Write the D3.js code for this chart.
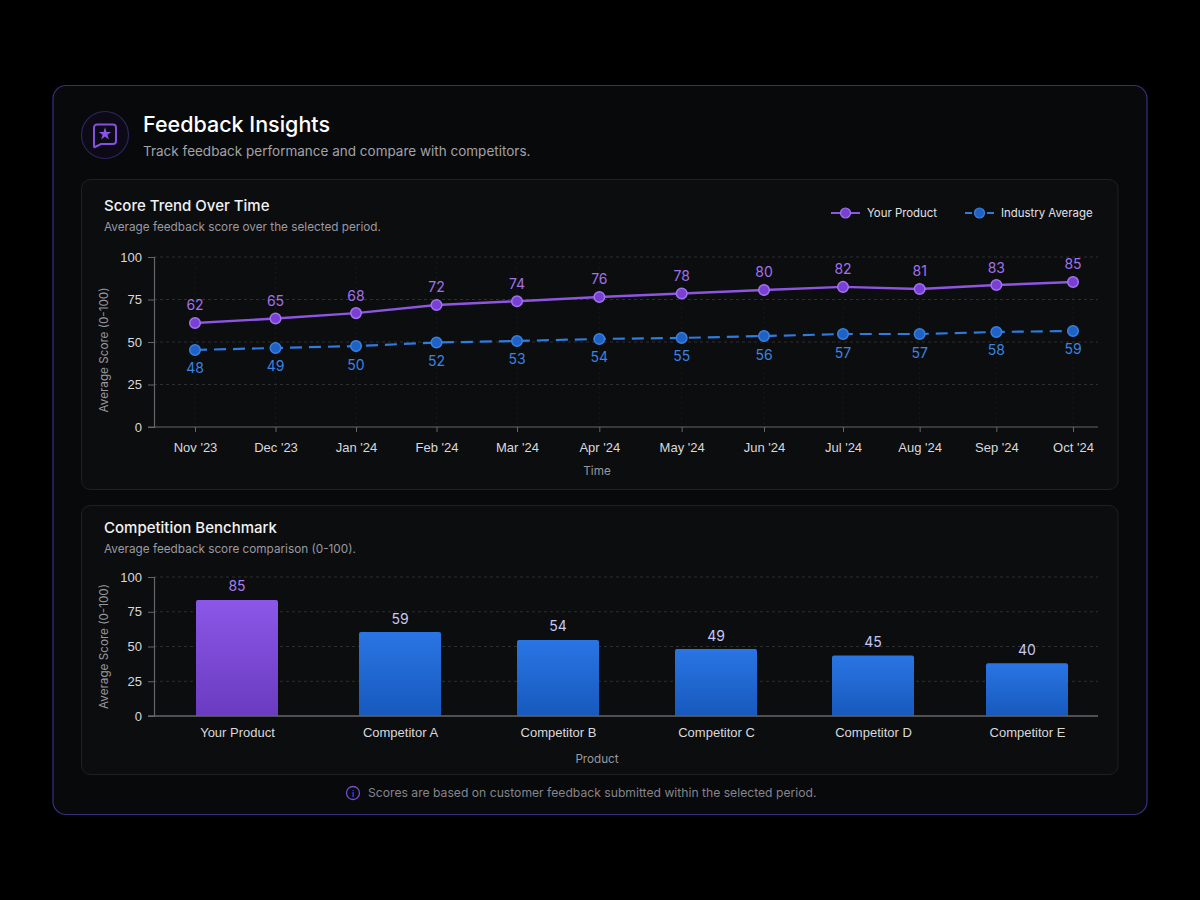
<!DOCTYPE html>
<html>
<head>
<meta charset="utf-8">
<title>Feedback Insights</title>
<script src="https://cdn.jsdelivr.net/npm/d3@7/dist/d3.min.js"></script>
<style>
  html, body { margin: 0; background: #000; }
  svg { display: block; font-family: Inter, "Noto Sans", sans-serif; }
  .tick-label { fill: #d9d9dd; font-size: 13px; }
  .axis-title { fill: #98989e; font-size: 11.7px; }
  .panel-title { fill: #f2f2f4; font-size: 15px; font-weight: 500; }
  .panel-sub { fill: #9a9aa0; font-size: 11.75px; }
  .domain-line { stroke: #66666a; stroke-width: 1.2; }
</style>
</head>
<body>
<svg id="chart" width="1200" height="900"></svg>
<script>
/* Feedback Insights: trend lines on top, benchmark bars below */

const MONTHS = ["Nov '23", "Dec '23", "Jan '24", "Feb '24", "Mar '24", "Apr '24", "May '24", "Jun '24", "Jul '24", "Aug '24", "Sep '24", "Oct '24"];

// the plotted height and the printed label disagree in the picture, so both are kept
const PRODUCT_LEVELS = [61.2, 63.8, 67, 71.8, 74, 76.5, 78.5, 80.6, 82.4, 81.2, 83.5, 85.3];
const PRODUCT_LABELS = [62, 65, 68, 72, 74, 76, 78, 80, 82, 81, 83, 85];
const INDUSTRY_LEVELS = [45.3, 46.5, 47.6, 49.7, 50.6, 51.8, 52.4, 53.5, 54.7, 54.7, 55.9, 56.5];
const INDUSTRY_LABELS = [48, 49, 50, 52, 53, 54, 55, 56, 57, 57, 58, 59];

const PRODUCTS = ["Your Product", "Competitor A", "Competitor B", "Competitor C", "Competitor D", "Competitor E"];
const BENCH_LEVELS = [83.5, 60.4, 54.7, 48.2, 43.5, 38];
const BENCH_LABELS = [85, 59, 54, 49, 45, 40];

const Y_TICKS = [0, 25, 50, 75, 100];

const PURPLE = { line: "#8e55e2", fill: "#7a40d6", ring: "#a274ee", text: "#a272ea" };
const BLUE = { line: "#2f7be0", fill: "#1f62c6", ring: "#3a80de", text: "#3b84e2" };

const svg = d3.select("#chart");
const defs = svg.append("defs");

function addGradient(id, top, bottom) {
  const g = defs.append("linearGradient").attr("id", id).attr("x1", 0).attr("y1", 0).attr("x2", 0).attr("y2", 1);
  g.append("stop").attr("offset", "0%").attr("stop-color", top);
  g.append("stop").attr("offset", "100%").attr("stop-color", bottom);
}
addGradient("barPurple", "#8b57e8", "#6a3bc0");
addGradient("barBlue", "#2a75e4", "#1759bd");

// outer card
svg.append("rect").attr("x", 53).attr("y", 85.5).attr("width", 1094).attr("height", 729).attr("rx", 13)
  .attr("fill", "#08090b").attr("stroke", "#3a2f7e").attr("stroke-width", 1.2);

function panel(y, h) {
  svg.append("rect").attr("x", 81.5).attr("y", y).attr("width", 1036.5).attr("height", h).attr("rx", 9)
    .attr("fill", "#0c0d0f").attr("stroke", "#1f2123");
}
panel(179.5, 310);
panel(505.5, 269);

// header icon
const icon = svg.append("g").attr("transform", "translate(105,135)");
icon.append("circle").attr("r", 23.5).attr("fill", "#0c0a16").attr("stroke", "#2f2559").attr("stroke-width", 1.2);
icon.append("path")
  .attr("d", "M-8,-10.5 H8 A3,3 0 0 1 11,-7.5 V6 A3,3 0 0 1 8,9 H-4 L-10,12 Q-11,12.5 -11,11 V-7.5 A3,3 0 0 1 -8,-10.5 Z")
  .attr("fill", "none").attr("stroke", "#8450dc").attr("stroke-width", 2);
icon.append("path").attr("d", d3.symbol(d3.symbolStar, 50)()).attr("transform", "translate(0,-1)").attr("fill", "#8a55e6");

svg.append("text").attr("x", 143).attr("y", 132).attr("fill", "#fff")
  .style("font-size", "21.5px").style("font-weight", 500).text("Feedback Insights");
svg.append("text").attr("x", 143).attr("y", 156).attr("fill", "#a2a2a8")
  .style("font-size", "13.5px").text("Track feedback performance and compare with competitors.");

svg.append("text").attr("class", "panel-title").attr("x", 104).attr("y", 211).text("Score Trend Over Time");
svg.append("text").attr("class", "panel-sub").attr("x", 104).attr("y", 231).text("Average feedback score over the selected period.");
svg.append("text").attr("class", "panel-title").attr("x", 104).attr("y", 533).text("Competition Benchmark");
svg.append("text").attr("class", "panel-sub").attr("x", 104).attr("y", 553).text("Average feedback score comparison (0-100).");

// shared frame for both charts: grid, left axis, bottom axis
function drawFrame(y, x, xTicks, xFormat, yTitle, yTitleCenter, xTitle, xTitleY, vGrid) {
  const left = 154, right = 1098;
  const bottom = y(0);

  const grid = svg.append("g");
  grid.selectAll("line.h").data(Y_TICKS.filter((t) => t > 0)).join("line")
    .attr("x1", left).attr("x2", right).attr("y1", (d) => y(d)).attr("y2", (d) => y(d))
    .attr("stroke", "#2e2f31").attr("stroke-dasharray", "3 3");
  if (vGrid) {
    grid.selectAll("line.v").data(xTicks).join("line")
      .attr("x1", (d) => x(d)).attr("x2", (d) => x(d)).attr("y1", y(100)).attr("y2", bottom)
      .attr("stroke", "#17181a").attr("stroke-dasharray", "2 3");
  }

  const yAxis = svg.append("g").attr("transform", `translate(${left},0)`)
    .call(d3.axisLeft(y).tickValues(Y_TICKS).tickSize(6).tickPadding(6));
  yAxis.select(".domain").attr("class", "domain-line").attr("fill", "none");
  yAxis.selectAll(".tick line").attr("stroke", "#66666a");
  yAxis.selectAll(".tick text").attr("class", "tick-label").style("font-family", "inherit");

  const xAxis = svg.append("g").attr("transform", `translate(0,${bottom})`)
    .call(d3.axisBottom(x).tickValues(xTicks).tickFormat(xFormat).tickSize(vGrid ? 5 : 0).tickPadding(vGrid ? 11 : 12));
  xAxis.select(".domain").remove();
  xAxis.append("line").attr("class", "domain-line").attr("x1", left - 6).attr("x2", right);
  xAxis.selectAll(".tick line").attr("stroke", "#66666a");
  xAxis.selectAll(".tick text").attr("class", "tick-label").style("font-family", "inherit");

  svg.append("text").attr("class", "axis-title").attr("text-anchor", "middle")
    .attr("transform", `translate(108,${yTitleCenter}) rotate(-90)`).text(yTitle);
  svg.append("text").attr("class", "axis-title").attr("text-anchor", "middle")
    .attr("x", 597).attr("y", xTitleY).text(xTitle);
}

// trend chart. months are not evenly spaced in the picture, hence the piecewise domain
const xTrend = d3.scaleLinear().domain([0, 4, 7, 8, 11]).range([195, 517, 764, 843, 1073]);
const yTrend = d3.scaleLinear().domain([0, 100]).range([427, 257]);

drawFrame(yTrend, xTrend, d3.range(MONTHS.length), (i) => MONTHS[i], "Average Score (0-100)", 350, "Time", 475, true);

function drawSeries(levels, labels, color, dashed, labelDy) {
  const line = d3.line().x((d, i) => xTrend(i)).y((d) => yTrend(d));
  svg.append("path").datum(levels).attr("d", line).attr("fill", "none")
    .attr("stroke", color.line).attr("stroke-width", dashed ? 2.2 : 2.4)
    .attr("stroke-dasharray", dashed ? "12 7" : null);
  svg.append("g").selectAll("circle").data(levels).join("circle")
    .attr("cx", (d, i) => xTrend(i)).attr("cy", (d) => yTrend(d)).attr("r", 5.3)
    .attr("fill", color.fill).attr("stroke", color.ring).attr("stroke-width", 1.5);
  svg.append("g").selectAll("text").data(labels).join("text")
    .attr("x", (d, i) => xTrend(i)).attr("y", (d, i) => yTrend(levels[i]) + labelDy)
    .attr("text-anchor", "middle").attr("dominant-baseline", "central")
    .attr("fill", color.text).style("font-size", "14px").text((d) => d);
}
drawSeries(INDUSTRY_LEVELS, INDUSTRY_LABELS, BLUE, true, 18);
drawSeries(PRODUCT_LEVELS, PRODUCT_LABELS, PURPLE, false, -18);

// legend
function legendItem(x, label, color, dashed) {
  const g = svg.append("g").attr("transform", `translate(${x},213)`);
  g.append("line").attr("x1", 0).attr("x2", 29).attr("stroke", color.line).attr("stroke-width", 2)
    .attr("stroke-dasharray", dashed ? "7 3 9 3 7" : null);
  g.append("circle").attr("cx", 14.5).attr("r", 5).attr("fill", color.fill).attr("stroke", color.ring).attr("stroke-width", 1.2);
  g.append("text").attr("x", 36).attr("dominant-baseline", "central").attr("fill", "#e2e2e6")
    .style("font-size", "11.4px").text(label);
}
legendItem(831, "Your Product", PURPLE, false);
legendItem(965, "Industry Average", BLUE, true);

// benchmark bars
const xBench = d3.scaleLinear().domain([0, 1, 3, 4, 5]).range([237, 400, 716, 873, 1027]);
const yBench = d3.scaleLinear().domain([0, 100]).range([716, 577]);

drawFrame(yBench, xBench, d3.range(PRODUCTS.length), (i) => PRODUCTS[i], "Average Score (0-100)", 646.5, "Product", 763, false);

const barWidth = 82;
const bars = svg.append("g");
bars.selectAll("path").data(BENCH_LEVELS).join("path")
  .attr("d", (d, i) => {
    const x0 = xBench(i) - barWidth / 2, x1 = x0 + barWidth;
    const top = yBench(d), base = yBench(0), r = 2;
    return `M${x0},${base}V${top + r}Q${x0},${top} ${x0 + r},${top}H${x1 - r}Q${x1},${top} ${x1},${top + r}V${base}Z`;
  })
  .attr("fill", (d, i) => (i === 0 ? "url(#barPurple)" : "url(#barBlue)"));
svg.append("line").attr("class", "domain-line").attr("x1", 148).attr("x2", 1098).attr("y1", yBench(0)).attr("y2", yBench(0));

svg.append("g").selectAll("text").data(BENCH_LABELS).join("text")
  .attr("x", (d, i) => xBench(i)).attr("y", (d, i) => yBench(BENCH_LEVELS[i]) - 14)
  .attr("text-anchor", "middle").attr("dominant-baseline", "central")
  .attr("fill", (d, i) => (i === 0 ? "#a67df0" : "#c6c8f6")).style("font-size", "14px").text((d) => d);

// footnote
const info = svg.append("g").attr("transform", "translate(353,793)");
info.append("circle").attr("r", 6.5).attr("fill", "none").attr("stroke", "#7a4bd0").attr("stroke-width", 1.3);
info.append("text").attr("text-anchor", "middle").attr("dominant-baseline", "central").attr("fill", "#8a5ae0")
  .style("font-size", "9px").text("i");
svg.append("text").attr("x", 368).attr("y", 797).attr("fill", "#85858b")
  .style("font-size", "12.17px").text("Scores are based on customer feedback submitted within the selected period.");
</script>
</body>
</html>
